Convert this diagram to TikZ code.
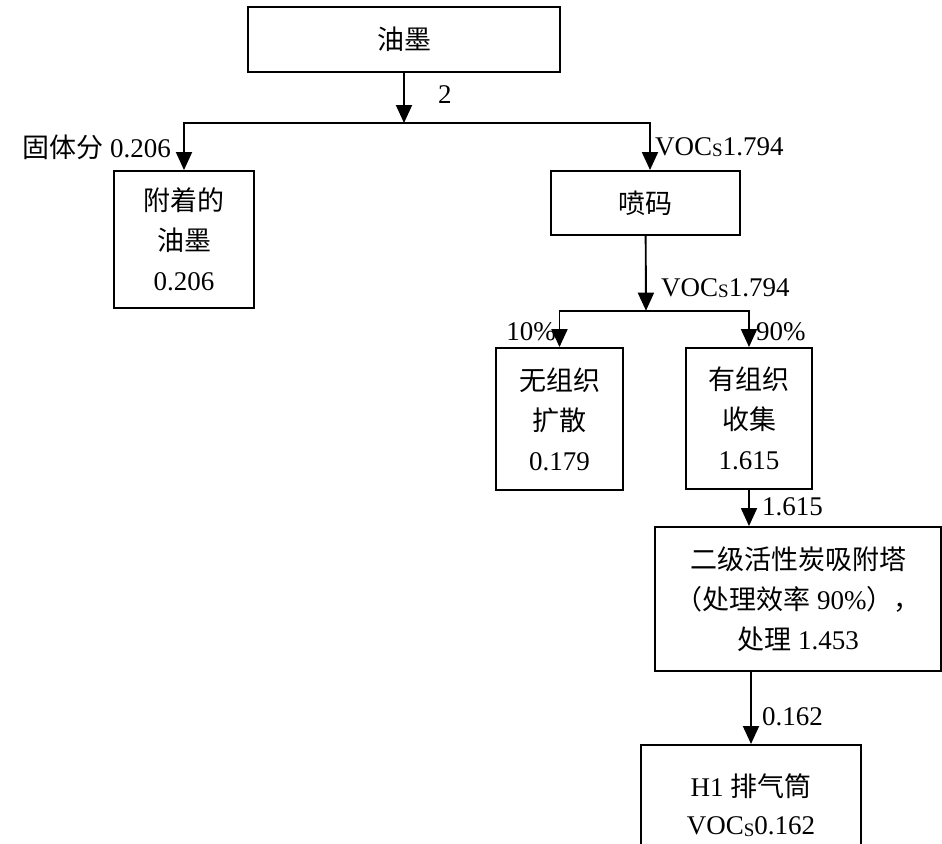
\documentclass[tikz,border=0pt]{standalone}
\usepackage{fontspec}
\setmainfont{Liberation Serif}
\newfontfamily\cjk{Noto Sans CJK SC}
\usetikzlibrary{positioning,arrows.meta}
\newcommand{\zh}[1]{{\cjk #1}}
\newcommand{\vocs}{VOC\raisebox{-0.06em}{\fontsize{19}{19}\selectfont S}}

\begin{document}
\begin{tikzpicture}[x=1pt,y=-1pt,
    main/.style = {draw, line width=1.9pt, align=center, inner sep=0pt, font=\fontsize{27}{40}\selectfont},
    lbl/.style = {inner sep=0pt, font=\fontsize{27}{32}\selectfont},
    flow/.style = {line width=1.9pt, -{Triangle[length=18pt,width=16pt]}}]
                        \useasboundingbox (0,0) rectangle (942,843);
                        \clip (0,0) rectangle (942,843);

                        \node[main, minimum width=312pt, minimum height=65pt](1) at (404,39.5){\zh{油墨}};
                        \node[main, minimum width=140pt, minimum height=137pt](2) at (184,239.5){\zh{附着的}\\\zh{油墨}\\0.206};
                        \node[main, minimum width=189pt, minimum height=64pt](3) at (645.5,203){\zh{喷码}};
                        \node[main, minimum width=127pt, minimum height=142pt](4) at (559.5,419){\zh{无组织}\\\zh{扩散}\\0.179};
                        \node[main, minimum width=126pt, minimum height=141pt](5) at (749,418.5){\zh{有组织}\\\zh{收集}\\1.615};
                        \node[main, minimum width=286pt, minimum height=144pt](6) at (798,599){\zh{二级活性炭吸附塔}\\\zh{（处理效率} 90\%\zh{），}\\\zh{处理} 1.453};
                        \node[main, minimum width=220pt, minimum height=120pt, anchor=north, font=\fontsize{27}{38}\selectfont](7) at (751,744){H1 \zh{排气筒}\\\vocs0.162};

                        \coordinate (j1) at (404,123);
                        \coordinate (j2) at (646,310.7);

                        \draw[flow] (1) -- (j1);
                        \draw[flow] (j1) -| (2);
                        \draw[flow] (j1) -| ([xshift=4.5pt]3.north);
                        \draw[flow] (3) -- (j2);
                        \draw[flow] (j2) -| (4);
                        \draw[flow] (j2) -| (5);
                        \draw[flow] (5) -- (5 |- 6.north);
                        \draw[flow] (7.north |- 6.south) -- (7);

                        \node[lbl, anchor=west](l1) at (438,95){2};
                        \node[lbl, anchor=east](l2) at (171,147){\zh{固体分} 0.206};
                        \node[lbl, anchor=west](l3) at (655,147){\vocs1.794};
                        \node[lbl, anchor=west](l4) at (661,288){\vocs1.794};
                        \node[lbl, anchor=east](l5) at (556,332){10\%};
                        \node[lbl, anchor=west](l6) at (756,332){90\%};
                        \node[lbl, anchor=west](l7) at (762,507){1.615};
                        \node[lbl, anchor=west](l8) at (762,717){0.162};
                    \end{tikzpicture}
\end{document}
